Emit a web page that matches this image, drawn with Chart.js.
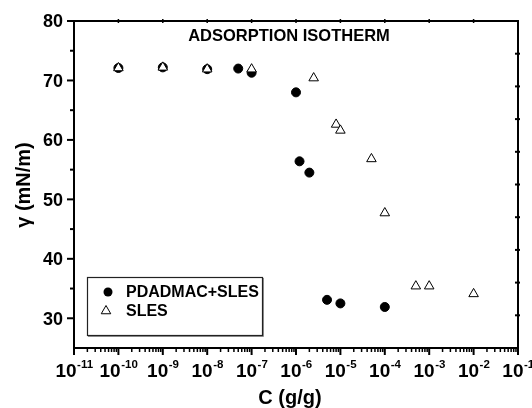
<!DOCTYPE html>
<html>
<head>
<meta charset="utf-8">
<script src="https://cdn.jsdelivr.net/npm/chart.js@4/dist/chart.umd.min.js"></script>
<style>
html,body{margin:0;padding:0;background:#fff;}
#wrap{width:532px;height:408px;}
</style>
</head>
<body>
<div id="wrap"><canvas id="c" width="532" height="408"></canvas></div>
<script>
// ---- data ----
const pdadmacC = [1e-10, 1e-9, 1e-8, 5e-8, 1e-7, 1e-6, 1.2e-6, 2e-6, 5e-6, 1e-5, 1e-4];
const pdadmacGamma = [72.1, 72.2, 71.9, 72.0, 71.3, 68.0, 56.4, 54.5, 33.1, 32.5, 31.9];
const slesC = [1e-10, 1e-9, 1e-8, 1e-7, 2.5e-6, 8e-6, 1e-5, 5e-5, 1e-4, 5e-4, 1e-3, 1e-2];
const slesGamma = [72.1, 72.2, 71.9, 71.9, 70.4, 62.6, 61.6, 56.8, 47.7, 35.4, 35.4, 34.1];
const xDecades = [-11, -10, -9, -8, -7, -6, -5, -4, -3, -2, -1];
const yTicks = [30, 40, 50, 60, 70, 80];
const seriesNames = ['PDADMAC+SLES', 'SLES'];
const chartTitle = 'ADSORPTION ISOTHERM';
const xTitle = 'C (g/g)';
const yTitle = 'γ (mN/m)';

const FONT = '"Liberation Sans", Arial, sans-serif';

const decorPlugin = {
  id: 'decor',
  afterDraw(chart) {
    const ctx = chart.ctx;
    const ca = chart.chartArea;
    const xs = chart.scales.x, ys = chart.scales.y, y2 = chart.scales.y2;
    ctx.save();
    ctx.strokeStyle = '#000';
    ctx.fillStyle = '#000';
    // left axis ticks
    for (let v = 30; v <= 80; v += 5) {
      const py = ys.getPixelForValue(v);
      const major = v % 10 === 0;
      ctx.lineWidth = 2;
      ctx.beginPath();
      ctx.moveTo(ca.left, py);
      ctx.lineTo(ca.left - (major ? 7 : 4), py);
      ctx.stroke();
    }
    // bottom axis ticks (log)
    for (let i = 0; i < xDecades.length; i++) {
      const d = xDecades[i];
      const px = xs.getPixelForValue(Math.pow(10, d));
      ctx.lineWidth = 2;
      ctx.beginPath();
      ctx.moveTo(px, ca.bottom);
      ctx.lineTo(px, ca.bottom + 7);
      ctx.stroke();
      if (i < xDecades.length - 1) {
        for (let m = 2; m <= 9; m++) {
          const pm = xs.getPixelForValue(m * Math.pow(10, d));
          ctx.lineWidth = 1.5;
          ctx.beginPath();
          ctx.moveTo(pm, ca.bottom);
          ctx.lineTo(pm, ca.bottom + 4);
          ctx.stroke();
        }
      }
    }
    // right axis nubs
    for (let k = 1; k < 10; k++) {
      const py = y2.getPixelForValue(25 + k * 5.5);
      ctx.lineWidth = 2;
      ctx.beginPath();
      ctx.moveTo(ca.right - 3, py);
      ctx.lineTo(ca.right + 2, py);
      ctx.stroke();
    }
    // top axis nubs
    for (let i = 1; i < xDecades.length - 1; i++) {
      const px = xs.getPixelForValue(Math.pow(10, xDecades[i]));
      ctx.lineWidth = 1.5;
      ctx.beginPath();
      ctx.moveTo(px, ca.top - 2);
      ctx.lineTo(px, ca.top + 2);
      ctx.stroke();
    }
    // y tick labels
    ctx.font = 'bold 18px ' + FONT;
    ctx.textAlign = 'right';
    ctx.textBaseline = 'alphabetic';
    yTicks.forEach(v => {
      const py = ys.getPixelForValue(v);
      ctx.fillText(String(v), ca.left - 11, py + 6.4);
    });
    // x tick labels with superscripts
    xDecades.forEach(d => {
      const px = xs.getPixelForValue(Math.pow(10, d));
      ctx.font = 'bold 19px ' + FONT;
      const wb = ctx.measureText('10').width;
      ctx.font = 'bold 11.5px ' + FONT;
      const sup = String(d);
      const ws = ctx.measureText(sup).width;
      const x0 = px - (wb + ws) / 2;
      ctx.textAlign = 'left';
      ctx.font = 'bold 19px ' + FONT;
      ctx.fillText('10', x0, ca.bottom + 29);
      ctx.font = 'bold 11.5px ' + FONT;
      ctx.fillText(sup, x0 + wb + 0.5, ca.bottom + 20);
    });
    // axis titles
    ctx.font = 'bold 20px ' + FONT;
    ctx.textAlign = 'center';
    ctx.fillText(xTitle, (ca.left + ca.right) / 2 - 6, 404);
    ctx.save();
    ctx.translate(30, 185);
    ctx.rotate(-Math.PI / 2);
    ctx.textBaseline = 'alphabetic';
    ctx.fillText(yTitle, 0, 0);
    ctx.restore();
    // chart title
    ctx.font = 'bold 16.5px ' + FONT;
    ctx.textAlign = 'center';
    ctx.fillText(chartTitle, 289, 41);
    // legend box
    ctx.lineWidth = 1.2;
    ctx.strokeStyle = '#222';
    ctx.fillStyle = '#fff';
    ctx.fillRect(87, 277, 175, 58);
    ctx.strokeRect(87.5, 277.5, 175, 58);
    ctx.strokeStyle = '#888';
    ctx.lineWidth = 1;
    ctx.beginPath();
    ctx.moveTo(88, 336.5); ctx.lineTo(263.5, 336.5); ctx.lineTo(263.5, 278);
    ctx.stroke();
    // legend markers
    const ds = chart.data.datasets;
    ctx.fillStyle = '#000'; ctx.strokeStyle = '#000';
    ctx.beginPath(); ctx.arc(108, 292, 4.5, 0, Math.PI * 2); ctx.fill();
    ctx.fillStyle = '#fff'; ctx.strokeStyle = '#000'; ctx.lineWidth = 1;
    Chart.helpers.drawPoint(ctx, {pointStyle: 'triangle', radius: 5.5, borderWidth: 1}, 106, 311);
    ctx.fillStyle = '#000';
    ctx.font = 'bold 16px ' + FONT;
    ctx.textAlign = 'left';
    ctx.fillText(ds[0].label, 126, 296.5);
    ctx.fillText(ds[1].label, 126, 316);
    ctx.restore();
  }
};

const pts = (xa, ya) => xa.map((x, i) => ({x: x, y: ya[i]}));

new Chart(document.getElementById('c'), {
  type: 'scatter',
  data: {
    datasets: [
      {
        label: seriesNames[0],
        data: pts(pdadmacC, pdadmacGamma),
        pointStyle: 'circle',
        pointRadius: 4.5,
        pointBackgroundColor: '#000',
        pointBorderColor: '#000',
        pointBorderWidth: 1,
        order: 1
      },
      {
        label: seriesNames[1],
        data: pts(slesC, slesGamma),
        pointStyle: 'triangle',
        pointRadius: 5.5,
        pointBackgroundColor: '#fff',
        pointBorderColor: '#000',
        pointBorderWidth: 1,
        order: 0
      }
    ]
  },
  options: {
    responsive: false,
    animation: false,
    devicePixelRatio: 1,
    layout: {padding: {top: 21, right: 14, left: 0, bottom: 0}},
    plugins: {legend: {display: false}, title: {display: false}, tooltip: {enabled: false}},
    scales: {
      x: {
        type: 'logarithmic', position: 'bottom', min: 1e-11, max: 1e-1,
        grid: {display: false}, ticks: {display: false},
        border: {display: true, width: 2, color: '#000'},
        afterFit: s => { s.height = 60; }
      },
      x2: {
        type: 'logarithmic', position: 'top', min: 1e-11, max: 1e-1,
        grid: {display: false}, ticks: {display: false},
        border: {display: true, width: 2, color: '#000'},
        afterFit: s => { s.height = 0; }
      },
      y: {
        type: 'linear', position: 'left', min: 25, max: 80,
        grid: {display: false}, ticks: {display: false},
        border: {display: true, width: 2, color: '#000'},
        afterFit: s => { s.width = 74; }
      },
      y2: {
        type: 'linear', position: 'right', min: 25, max: 80,
        grid: {display: false}, ticks: {display: false},
        border: {display: true, width: 2, color: '#000'},
        afterFit: s => { s.width = 0; }
      }
    }
  },
  plugins: [decorPlugin]
});
</script>
</body>
</html>
